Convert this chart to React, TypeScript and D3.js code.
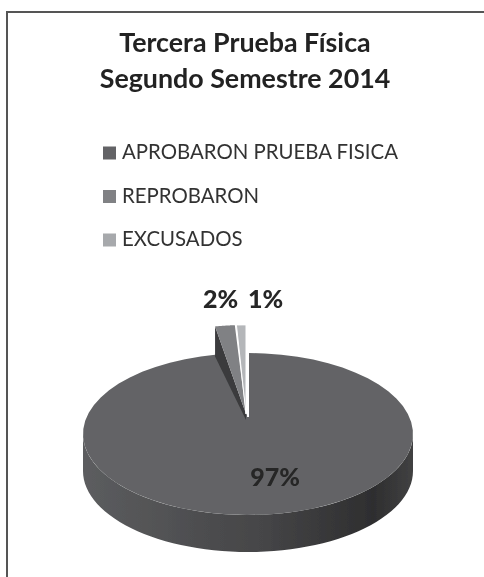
import React from "react";
import * as d3 from "d3";

const titleLines = ["Tercera Prueba Física", "Segundo Semestre 2014"];
const categories = ["APROBARON PRUEBA FISICA", "REPROBARON", "EXCUSADOS"];
const values = [97, 2, 1];
const valueLabels = ["97%", "2%", "1%"];
const swatchColors = ["#636466", "#808184", "#a7a9ac"];
const topColors = ["#636466", "#808184", "#b4b6b9"];

const W = 484;
const H = 577;
const cx = 248;
const cy = 434;
const rx = 165;
const ry = 81;
const depth = 37;
const apexLift = 17;

const slices = d3.pie<number>().sort(null)(values);
const pt = (a: number, rs = 1, dx = 0, dy = 0): [number, number] => [
  cx + dx + rx * rs * Math.sin(a),
  cy + dy - ry * rs * Math.cos(a),
];
const line = d3.line();
const arcPts = (a0: number, a1: number, dx = 0, dy = 0) =>
  d3.range(0, 61).map((i) => pt(a0 + ((a1 - a0) * i) / 60, 1, dx, dy));

const main = slices[0];
const mainPath =
  line([[cx, cy - apexLift] as [number, number], ...arcPts(main.startAngle, main.endAngle)]) + "Z";
const wallTop = arcPts(Math.PI / 2, (3 * Math.PI) / 2);
const wallPath =
  line([...wallTop, ...wallTop.slice().reverse().map(([x, y]) => [x, y + depth] as [number, number])]) + "Z";

const popY = -28;
const popX = -2;
const apexSmall: [number, number] = [cx - 2, cy - 20];
const rep = slices[1];
const repTop = arcPts(rep.startAngle, rep.endAngle - 0.005, popX, popY);
const repPath = line([apexSmall, ...repTop]) + "Z";
const repSide = line([
  apexSmall,
  repTop[0],
  [repTop[0][0], repTop[0][1] + 30],
  [apexSmall[0], apexSmall[1] + 6],
]) + "Z";
const exc = slices[2];
const excPath =
  line([apexSmall, ...arcPts(exc.startAngle + 0.005, exc.endAngle, popX, popY)]) + "Z";

const legendY = d3.scalePoint<string>().domain(categories).range([153, 240]);
const font = "Lato, 'Open Sans', sans-serif";

export default function App() {
  return (
    <svg
      width={W}
      height={H}
      viewBox={`0 0 ${W} ${H}`}
      style={{ position: "absolute", left: 0, top: 0, background: "#fff" }}
      fontFamily={font}
    >
      <defs>
        <linearGradient id="wall" x1="0" x2="1" y1="0" y2="0">
          <stop offset="0" stopColor="#5c5d5f" />
          <stop offset="0.55" stopColor="#454547" />
          <stop offset="0.88" stopColor="#2e2e2f" />
          <stop offset="1" stopColor="#414142" />
        </linearGradient>
        <filter id="soft" x="-5%" y="-5%" width="110%" height="110%">
          <feGaussianBlur stdDeviation="0.55" />
        </filter>
      </defs>
      <g filter="url(#soft)">
        <path d={`M7 577V12H484`} fill="none" stroke="#555" strokeWidth={2} />
        <g fontWeight={700} fontSize={26.8} fill="#222" textAnchor="middle">
          {titleLines.map((t, i) => (
            <text key={t} x={245} y={52 + i * 36}>{t}</text>
          ))}
        </g>
        {categories.map((c, i) => (
          <g key={c}>
            <rect x={103} y={legendY(c)! - 6.5} width={13} height={13} fill={swatchColors[i]} />
            <text x={122} y={legendY(c)! + 6} fontSize={20.4} fill="#333">{c}</text>
          </g>
        ))}
        <path d={wallPath} fill="url(#wall)" />
        <path d={mainPath} fill={topColors[0]} />
        <path d={repSide} fill="#3a3a3c" />
        <path d={repPath} fill={topColors[1]} />
        <path d={excPath} fill={topColors[2]} stroke="#fff" strokeWidth={1} />
        <line x1={cx} y1={cy - apexLift} x2={cx} y2={cy - 81} stroke="#fff" strokeWidth={2} />
        <g fontWeight={900} fontSize={25} fill="#262626" textAnchor="middle">
          <text x={275} y={486}>{valueLabels[0]}</text>
          <text x={220.5} y={308}>{valueLabels[1]}</text>
          <text x={265.5} y={308}>{valueLabels[2]}</text>
        </g>
      </g>
    </svg>
  );
}
